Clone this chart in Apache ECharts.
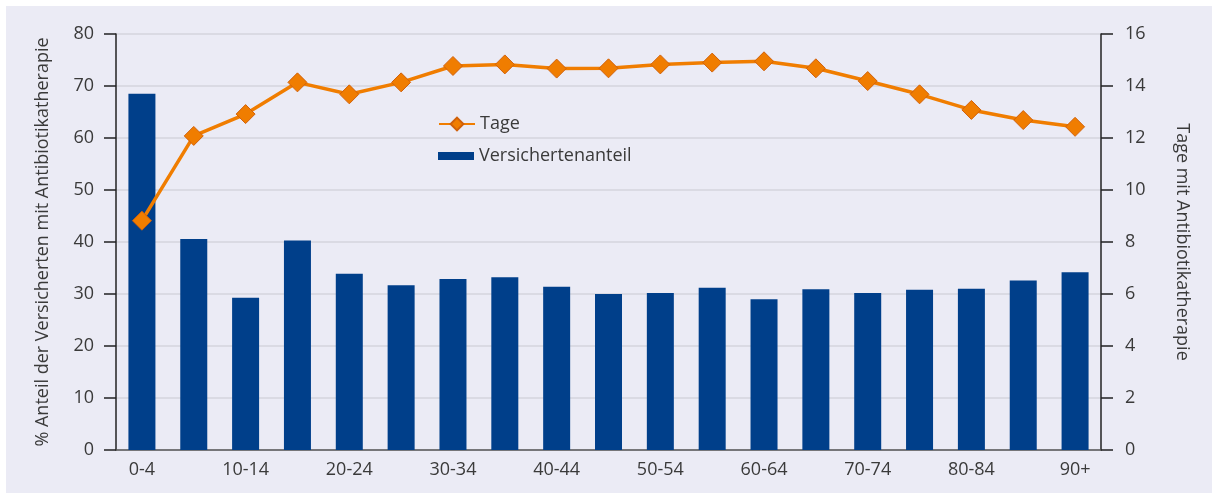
<!DOCTYPE html>
<html>
<head>
<meta charset="utf-8">
<script src="https://cdn.jsdelivr.net/npm/echarts@6/dist/echarts.min.js"></script>
<style>
  html, body { margin: 0; padding: 0; background: #fff; }
  #bg { position: absolute; left: 6px; top: 6px; width: 1206px; height: 487px; background: #ebebf5; }
  #main { position: absolute; left: 0; top: 0; width: 1212px; height: 493px; }
</style>
</head>
<body>
<div id="bg"></div>
<div id="main"></div>
<script>
  var categories = ["0-4", "5-9", "10-14", "15-19", "20-24", "25-29", "30-34", "35-39", "40-44",
    "45-49", "50-54", "55-59", "60-64", "65-69", "70-74", "75-79", "80-84", "85-89", "90+"];
  // % Anteil der Versicherten mit Antibiotikatherapie
  var anteil = [68.5, 40.6, 29.3, 40.3, 33.9, 31.7, 32.9, 33.2, 31.4,
    30.0, 30.2, 31.2, 29.0, 30.9, 30.2, 30.8, 31.0, 32.6, 34.2];
  // Tage mit Antibiotikatherapie
  var tage = [8.82, 12.08, 12.92, 14.14, 13.68, 14.14, 14.77, 14.83, 14.67,
    14.68, 14.83, 14.9, 14.95, 14.68, 14.19, 13.68, 13.08, 12.69, 12.43];

  var font = "'Open Sans', 'Noto Sans', sans-serif";
  var txt = "#3a3a3a";
  var fs = 18;

  var chart = echarts.init(document.getElementById("main"));
  chart.setOption({
    animation: false,
    textStyle: { fontFamily: font },
    grid: { left: 116, right: 111, top: 34, bottom: 43 },
    legend: [
      {
        data: ["Tage"],
        orient: "vertical",
        left: 433, top: 110,
        itemWidth: 36, itemHeight: 16,
        textStyle: { fontSize: fs, color: txt, fontFamily: font }
      },
      {
        data: [{ name: "Versichertenanteil", icon: "rect" }],
        orient: "vertical",
        left: 433, top: 142,
        itemWidth: 36, itemHeight: 8,
        textStyle: { fontSize: fs, color: txt, fontFamily: font }
      }
    ],
    xAxis: {
      type: "category",
      data: categories,
      axisLine: { lineStyle: { color: "#555", width: 1.5 } },
      axisTick: { show: false },
      axisLabel: { interval: 1, margin: 11, fontSize: fs, color: txt, fontFamily: font }
    },
    yAxis: [
      {
        type: "value",
        min: 0, max: 80, interval: 10,
        name: "% Anteil der Versicherten mit Antibiotikatherapie",
        nameLocation: "middle",
        nameGap: 64,
        nameTextStyle: { fontSize: fs, color: txt, fontFamily: font },
        axisLine: { show: true, lineStyle: { color: "#222", width: 1.5 } },
        axisTick: { show: true, length: 12, lineStyle: { color: "#222", width: 1.5 } },
        axisLabel: { margin: 22, fontSize: fs, color: txt, fontFamily: font },
        splitLine: { lineStyle: { color: "#d5d5dd", width: 1.5 } }
      },
      {
        type: "value",
        min: 0, max: 16, interval: 2,
        position: "right",
        name: "Tage mit Antibiotikatherapie",
        nameLocation: "middle",
        nameRotate: -90,
        nameGap: 72,
        nameTextStyle: { fontSize: fs, color: txt, fontFamily: font },
        axisLine: { show: true, lineStyle: { color: "#222", width: 1.5 } },
        axisTick: { show: true, length: 12, lineStyle: { color: "#222", width: 1.5 } },
        axisLabel: { margin: 24, fontSize: fs, color: txt, fontFamily: font },
        splitLine: { show: false }
      }
    ],
    series: [
      {
        name: "Versichertenanteil",
        type: "bar",
        yAxisIndex: 0,
        data: anteil,
        barWidth: 27,
        itemStyle: { color: "#003f8a" }
      },
      {
        name: "Tage",
        type: "line",
        yAxisIndex: 1,
        data: tage,
        symbol: "diamond",
        symbolSize: 19,
        z: 5,
        lineStyle: { color: "#f07d00", width: 3.5 },
        itemStyle: { color: "#f07d00", borderColor: "#d0600a", borderWidth: 1 }
      }
    ]
  });
</script>
</body>
</html>
